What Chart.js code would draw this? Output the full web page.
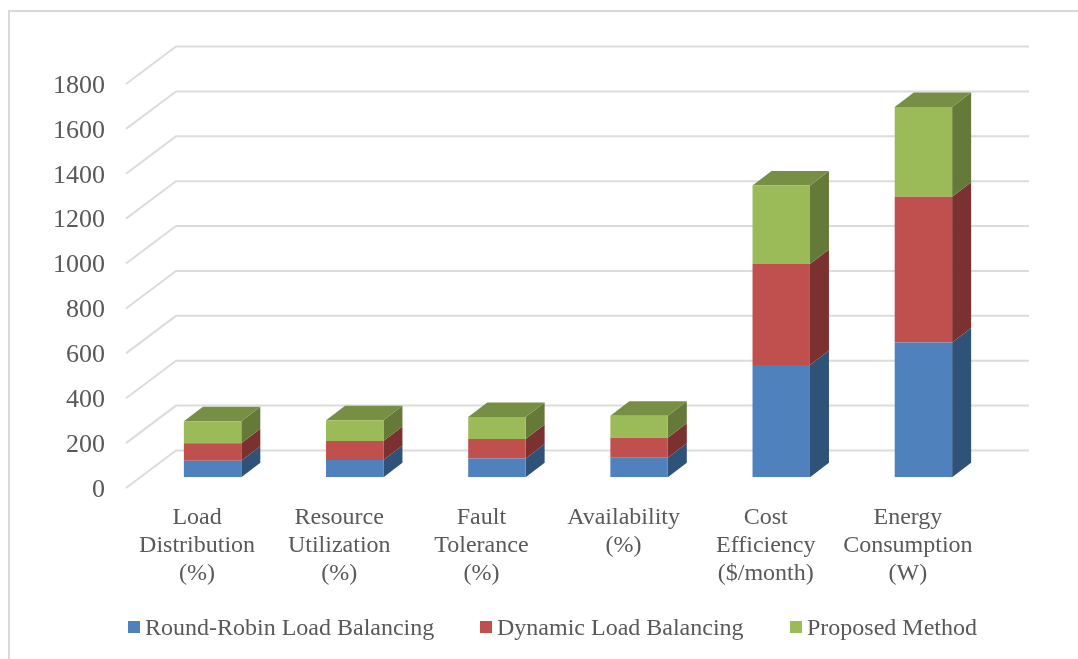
<!DOCTYPE html>
<html>
<head>
<meta charset="utf-8">
<title>Load balancing comparison</title>
<script src="https://cdn.jsdelivr.net/npm/chart.js@4"></script>
<style>
  html, body { margin: 0; padding: 0; background: #fff; overflow: hidden; }
  #wrap { position: relative; width: 1078px; height: 659px; }
  #frame { position: absolute; left: 8px; top: 10px; right: 0; bottom: 0; border-left: 2px solid #d9d9d9; border-top: 2px solid #d9d9d9; }
  #chart { position: absolute; left: 0; top: 0; }
  #legend { position: absolute; top: 612px; left: 0; font: 24px/30px "Liberation Serif", serif; color: #595959; white-space: nowrap; }
  #legend span { position: absolute; top: 0; }
  #legend i { position: absolute; top: 9px; width: 12px; height: 12px; }
</style>
</head>
<body>
<div id="wrap">
  <div id="frame"></div>
  <canvas id="chart" width="1078" height="659"></canvas>
  <div id="legend"></div>
</div>
<script>
const categories = [
  ["Load", "Distribution", "(%)"],
  ["Resource", "Utilization", "(%)"],
  ["Fault", "Tolerance", "(%)"],
  ["Availability", "(%)"],
  ["Cost", "Efficiency", "($/month)"],
  ["Energy", "Consumption", "(W)"]
];
const seriesNames = ["Round-Robin Load Balancing", "Dynamic Load Balancing", "Proposed Method"];
const roundRobin = [74, 77, 83, 87, 500, 600];
const dynamicLb = [78, 85, 87, 89, 450, 650];
const proposed = [97, 92, 98, 98, 350, 400];

const frontColors = ["#4f81bd", "#c0504d", "#9bbb59"];
const sideColors = ["#2f5279", "#7b3130", "#657a38"];
const topColor = "#778f45";
const legendX = [128, 480, 790];

// pseudo 3D: depth of the floor, and of a box standing in the middle of it
const wallDx = 50, wallDy = -37.5;
const boxDx = 19, boxDy = -14.5;
const boxShiftX = (wallDx - boxDx) / 2, boxShiftY = (wallDy - boxDy) / 2 + 0.75;

function poly(ctx, color, pts){
  ctx.fillStyle = color;
  ctx.beginPath();
  pts.forEach((p, i)=>{ i ? ctx.lineTo(p[0], p[1]) : ctx.moveTo(p[0], p[1]); });
  ctx.closePath();
  ctx.fill();
}

const wallGrid = {
  id: "wallGrid",
  beforeDatasetsDraw(chart){
    const {ctx, chartArea, scales} = chart;
    ctx.save();
    ctx.strokeStyle = "#dcdcdc";
    ctx.lineWidth = 2;
    scales.y.ticks.forEach((tick)=>{
      const y = scales.y.getPixelForValue(tick.value);
      ctx.beginPath();
      ctx.moveTo(chartArea.left, y);
      ctx.lineTo(chartArea.left + wallDx, y + wallDy);
      ctx.lineTo(chartArea.right + wallDx, y + wallDy);
      ctx.stroke();
    });
    ctx.restore();
  }
};

// bars are pushed back onto the floor, side and top faces go in behind the fronts
const boxes = {
  id: "boxes",
  beforeDatasetsDraw(chart){
    const ctx = chart.ctx;
    ctx.save();
    ctx.translate(boxShiftX, boxShiftY);
    chart.data.datasets.forEach((ds, d)=>{
      chart.getDatasetMeta(d).data.forEach((bar)=>{
        const p = bar.getProps(["x", "y", "base", "width"], true);
        const left = p.x - p.width / 2, right = p.x + p.width / 2;
        poly(ctx, sideColors[d], [
          [right, p.y], [right + boxDx, p.y + boxDy],
          [right + boxDx, p.base + boxDy], [right, p.base]
        ]);
        if(d === chart.data.datasets.length - 1){
          poly(ctx, topColor, [
            [left, p.y], [left + boxDx, p.y + boxDy],
            [right + boxDx, p.y + boxDy], [right, p.y]
          ]);
        }
      });
    });
  },
  afterDatasetsDraw(chart){
    chart.ctx.restore();
  }
};

const seriesValues = [roundRobin, dynamicLb, proposed];

new Chart(document.getElementById("chart"), {
  type: "bar",
  data: {
    labels: categories,
    datasets: seriesNames.map((name, i)=>({
      label: name,
      data: seriesValues[i],
      backgroundColor: frontColors[i],
      borderWidth: 0,
      barPercentage: 0.8,
      categoryPercentage: 0.505
    }))
  },
  options: {
    responsive: false,
    animation: false,
    devicePixelRatio: 1,
    layout: { padding: { top: 84, right: 99, bottom: 0, left: 0 } },
    plugins: { legend: { display: false }, tooltip: { enabled: false } },
    scales: {
      x: {
        stacked: true,
        grid: { display: false },
        border: { display: false },
        afterFit: (scale)=>{ scale.height = 171; },
        ticks: {
          color: "#595959",
          padding: 8,
          maxRotation: 0,
          autoSkip: false,
          font: { family: "'Liberation Serif', serif", size: 24, lineHeight: 1.167 }
        }
      },
      y: {
        stacked: true,
        min: 0,
        max: 1800,
        grid: { display: false, drawTicks: false },
        border: { display: false },
        afterFit: (scale)=>{ scale.width = 126; },
        ticks: {
          stepSize: 200,
          color: "#595959",
          padding: 21,
          labelOffset: 2,
          callback: (value)=>String(value),
          font: { family: "'Liberation Serif', serif", size: 26 }
        }
      }
    }
  },
  plugins: [wallGrid, boxes]
});

const legend = document.getElementById("legend");
seriesNames.forEach((name, i)=>{
  const box = document.createElement("i");
  box.style.left = legendX[i] + "px";
  box.style.background = frontColors[i];
  const text = document.createElement("span");
  text.style.left = (legendX[i] + 17) + "px";
  text.textContent = name;
  legend.append(box, text);
});
</script>
</body>
</html>
